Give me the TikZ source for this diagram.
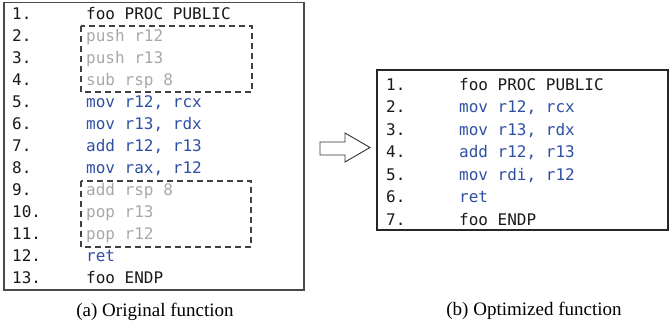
\documentclass[tikz,border=0pt]{standalone}
\usepackage{fontspec}
\setmainfont{Liberation Serif}
\newfontfamily\codefont{DejaVu Sans Mono}
\definecolor{instr}{HTML}{2F4FA2}
\definecolor{removed}{HTML}{A8A8A8}
\definecolor{framegray}{HTML}{4A4A4A}
\definecolor{dashgray}{HTML}{404040}

\begin{document}
\begin{tikzpicture}[x=1pt,y=-1pt,
  codeline/.style={anchor=base west, inner sep=0pt,
    font=\codefont\fontsize{16}{16}\selectfont},
  plain/.style={codeline, text=black!90},
  ins/.style={codeline, text=instr},
  gone/.style={codeline, text=removed},
  listing/.style={draw=#1, line width=1.3pt},
  cut/.style={draw=dashgray, line width=1.3pt, dash pattern=on 6pt off 4pt},
  caption/.style={anchor=base, inner sep=0pt,
    font=\fontsize{19}{19}\selectfont},
  blockarrow/.style={draw=black!80, line width=0.9pt, fill=white}]
\useasboundingbox (0,0) rectangle (669,324);

% original listing
\draw[listing=framegray] (4,2.5) rectangle (304,290);
\foreach \n/\s/\t [count=\i] in {
  1./plain/foo PROC PUBLIC,
  2./gone/push r12,
  3./gone/push r13,
  4./gone/sub rsp 8,
  5./ins/{mov r12, rcx},
  6./ins/{mov r13, rdx},
  7./ins/{add r12, r13},
  8./ins/{mov rax, r12},
  9./gone/add rsp 8,
  10./gone/pop r13,
  11./gone/pop r12,
  12./ins/ret,
  13./plain/foo ENDP}{
  \node[plain] (a\i) at (12,{19+22*(\i-1)}) {\n};
  \node[\s] (ac\i) at (86,{19+22*(\i-1)}) {\t};
}
% prologue and epilogue that get removed
\draw[cut] (81,26) rectangle (252,92);
\draw[cut] (81,181) rectangle (251,247);
\node[caption] (capa) at (155,316) {(a) Original function};

% transformation arrow
\draw[blockarrow] (320,142) -- (345,142) -- (345,133) -- (370,147.5)
  -- (345,162) -- (345,155) -- (320,155) -- cycle;

% optimized listing
\draw[listing=black!85] (377,70) rectangle (668,230);
\foreach \n/\s/\t [count=\i] in {
  1./plain/foo PROC PUBLIC,
  2./ins/{mov r12, rcx},
  3./ins/{mov r13, rdx},
  4./ins/{add r12, r13},
  5./ins/{mov rdi, r12},
  6./ins/ret,
  7./plain/foo ENDP}{
  \node[plain] (b\i) at (386,{90+22.5*(\i-1)}) {\n};
  \node[\s] (bc\i) at (459,{90+22.5*(\i-1)}) {\t};
}
\node[caption] (capb) at (534,315) {(b) Optimized function};
\end{tikzpicture}
\end{document}
